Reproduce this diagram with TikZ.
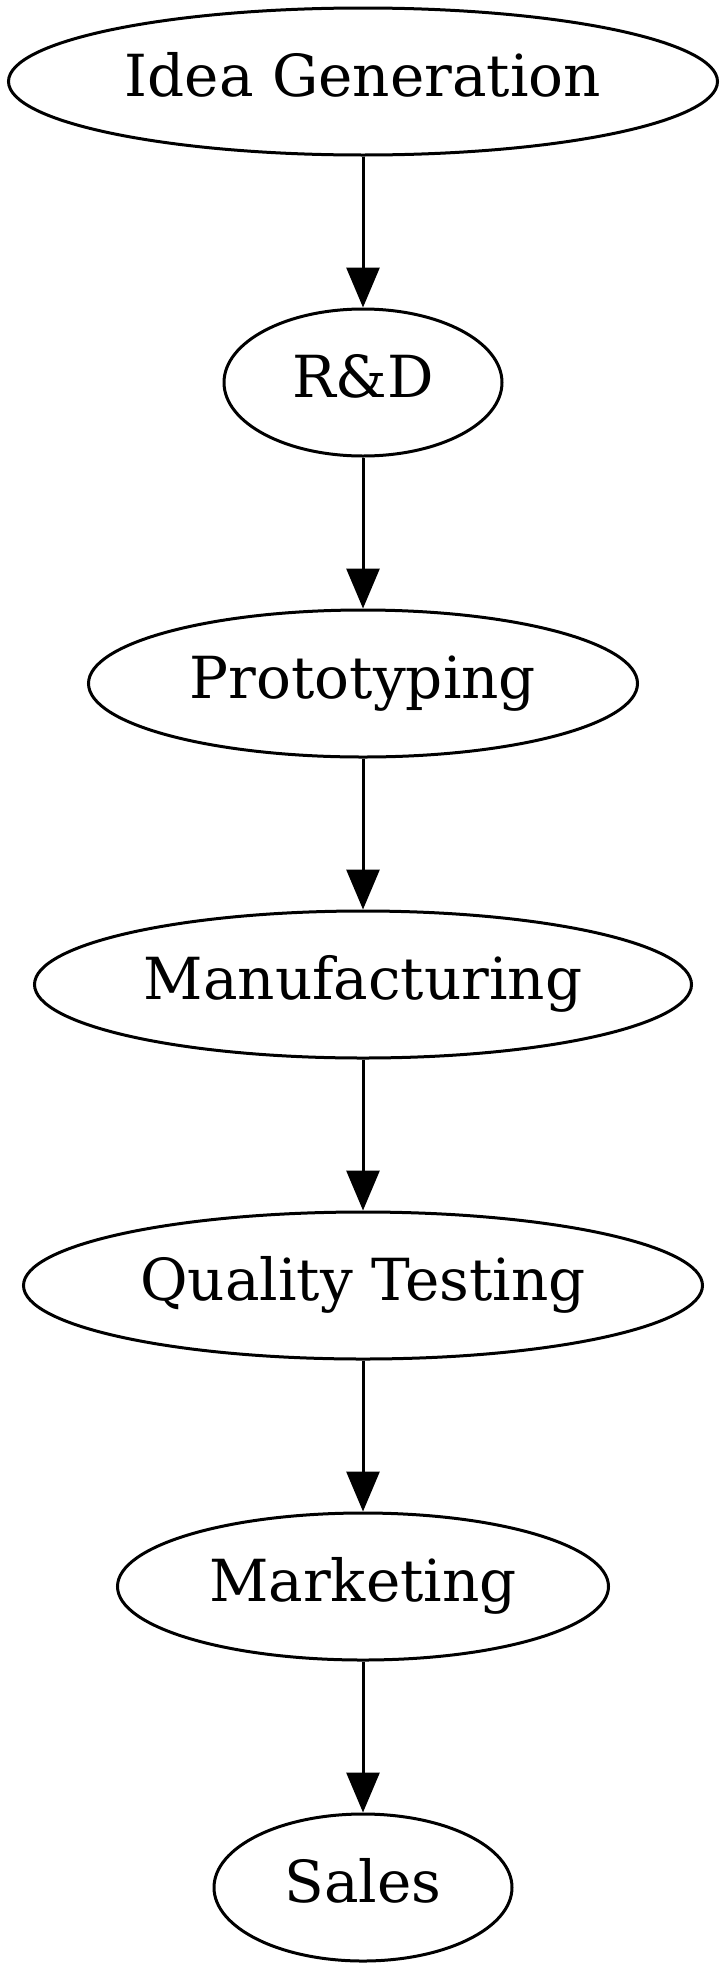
\documentclass[tikz,border=0pt]{standalone}
\usepackage{fontspec}
\setmainfont{DejaVu Serif}
\usetikzlibrary{shapes.geometric, arrows.meta}

\begin{document}
\begin{tikzpicture}[x=1pt, y=1pt, line width=3pt,
    stage/.style={draw, ellipse, inner sep=0pt, minimum height=147pt,
        text height=42pt, text depth=13pt,
        font=\fontsize{58}{70}\selectfont},
    flow/.style={-{Triangle[length=40pt, width=33pt]}}]
    \useasboundingbox (0,0) rectangle (726,-1965);

    \node[stage, minimum width=709pt] (idea) at (363,-81.5) {Idea Generation};
    \node[stage, minimum width=278pt] (rnd) at (363,-382.5) {R\&D};
    \node[stage, minimum width=549pt] (proto) at (363,-683.5) {Prototyping};
    \node[stage, minimum width=657pt] (manuf) at (363,-984.5) {Manufacturing};
    \node[stage, minimum width=679pt] (quality) at (363,-1285.5) {Quality Testing};
    \node[stage, minimum width=491pt] (market) at (363,-1586.5) {Marketing};
    \node[stage, minimum width=298pt] (sales) at (363,-1887.5) {Sales};

    \draw[flow] (idea) -- (rnd);
    \draw[flow] (rnd) -- (proto);
    \draw[flow] (proto) -- (manuf);
    \draw[flow] (manuf) -- (quality);
    \draw[flow] (quality) -- (market);
    \draw[flow] (market) -- (sales);
\end{tikzpicture}
\end{document}
